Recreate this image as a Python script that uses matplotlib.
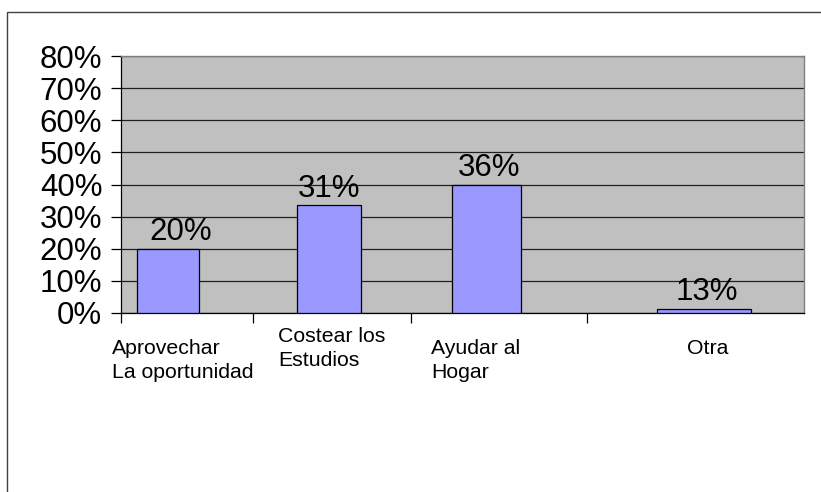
import matplotlib
matplotlib.use("Agg")
import matplotlib.pyplot as plt
from matplotlib.patches import Rectangle
from matplotlib.ticker import FixedLocator, PercentFormatter
import matplotlib.transforms as mtransforms

# ---- data ----
categories = ["Aprovechar\nLa oportunidad", "Costear los\nEstudios", "Ayudar al\nHogar", "Otra"]
bar_values = [0.20, 0.335, 0.40, 0.013]          # bar heights as drawn
bar_labels = ["20%", "31%", "36%", "13%"]         # labels shown on bars
y_ticks = [0.0, 0.1, 0.2, 0.3, 0.4, 0.5, 0.6, 0.7, 0.8]

# ---- layout (category units / points) ----
bar_pos = [0.275, 1.218, 2.140, 3.414]
bar_widths = [0.363, 0.375, 0.404, 0.551]
label_pos = [0.360, 1.236, 2.079, 3.438]
boundaries = [0.0, 0.773, 1.698, 2.729]
x_limits = (0.0, 4.0)
value_label_dx = [9.5, 0, 2, 2]

plt.rcParams['font.family'] = ['Liberation Sans', 'DejaVu Sans']

fig = plt.figure(figsize=(8.21, 4.92), dpi=100)
fig.patch.set_facecolor('white')

# outer frame
fig.patches.append(Rectangle((7 / 821, -0.1), 1.2, 1.1 - 12 / 492,
                             transform=fig.transFigure, fill=False,
                             edgecolor='#404040', linewidth=1.0))

ax = fig.add_axes([121 / 821, 1 - 313 / 492, (804 - 121) / 821, (313 - 56) / 492])
ax.set_facecolor('#C0C0C0')
ax.set_xlim(*x_limits)
ax.set_ylim(y_ticks[0], y_ticks[-1])

ax.yaxis.set_major_locator(FixedLocator(y_ticks))
ax.yaxis.set_major_formatter(PercentFormatter(1.0, decimals=0))
ax.grid(axis='y', color='#202020', linewidth=0.9)
ax.set_axisbelow(True)

bars = ax.bar(bar_pos, bar_values, width=bar_widths, color='#9999FF',
              edgecolor='#000000', linewidth=0.9, zorder=3)

for rect, lab, dx in zip(bars, bar_labels, value_label_dx):
    ax.annotate(lab, (rect.get_x() + rect.get_width() / 2, rect.get_height()),
                xytext=(dx, 6.0), textcoords='offset points',
                ha='center', va='baseline', fontsize=22.5, zorder=4)

# x ticks: boundary marks (major) and labels (minor)
ax.xaxis.set_major_locator(FixedLocator(boundaries))
ax.xaxis.set_major_formatter(plt.NullFormatter())
ax.tick_params(axis='x', which='major', direction='out', length=7.5, width=0.9, color='black')
ax.xaxis.set_minor_locator(FixedLocator(label_pos))
ax.set_xticklabels(categories, minor=True)
ax.tick_params(axis='x', which='minor', length=0, pad=19, labelsize=15.3)
for lbl in ax.get_xticklabels(minor=True):
    lbl.set_multialignment('left')
    lbl.set_linespacing(1.3)
    lbl.set_verticalalignment('top')

# Costear label sits higher
costear = ax.get_xticklabels(minor=True)[1]
costear.set_transform(costear.get_transform() +
                      mtransforms.ScaledTranslation(0, 12 / 100, fig.dpi_scale_trans))

ax.tick_params(axis='y', direction='out', length=7.5, width=0.9, pad=6, labelsize=22.5)

for side in ['left', 'bottom']:
    ax.spines[side].set_color('black')
    ax.spines[side].set_linewidth(0.9)
for side in ['top', 'right']:
    ax.spines[side].set_color('#808080')
    ax.spines[side].set_linewidth(1.0)

fig.savefig('out.png', dpi=100)
